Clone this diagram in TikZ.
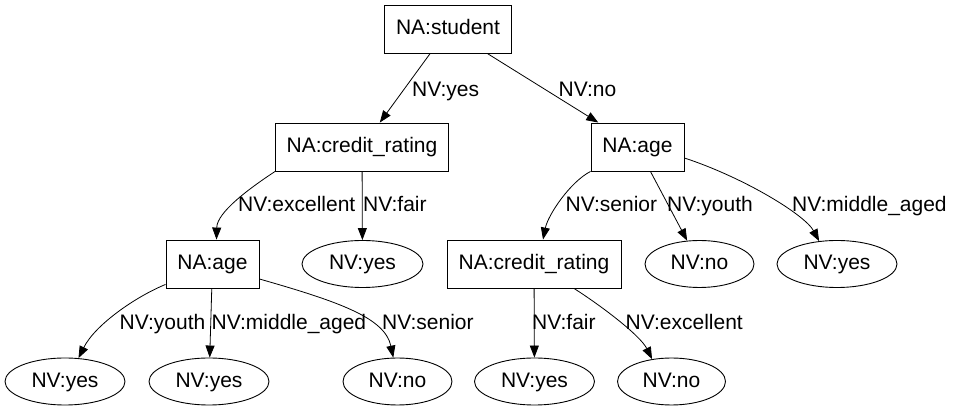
\documentclass[tikz,border=0pt]{standalone}
\usepackage{fontspec}
\setmainfont{Liberation Sans}
\usetikzlibrary{arrows.meta}
\usetikzlibrary{shapes.geometric}

\begin{document}
\begin{tikzpicture}[x=1pt,y=-1pt,font=\fontsize{21}{25}\selectfont,
  attr/.style={draw,rectangle,line width=0.9pt,inner sep=0pt,minimum height=48pt,text height=15pt,text depth=3pt},
  leaf/.style={draw,ellipse,line width=0.9pt,inner sep=0pt,minimum height=47pt,text height=15pt,text depth=3pt},
  branch/.style={-{Triangle[length=12pt,width=9pt]},line width=0.8pt},
  lbl/.style={anchor=base west,inner sep=0pt}]
\useasboundingbox (0,0) rectangle (954,411);

% attribute nodes
\node[attr,minimum width=127pt] (student) at (448,29) {NA:student};
\node[attr,minimum width=173pt] (creditL) at (362,147) {NA:credit\_rating};
\node[attr,minimum width=93pt] (ageR) at (637.5,147) {NA:age};
\node[attr,minimum width=93pt] (ageL) at (212.5,264) {NA:age};
\node[attr,minimum width=174pt] (creditR) at (534,264) {NA:credit\_rating};

% leaves
\node[leaf,minimum width=121pt] (fairL) at (362.5,264) {NV:yes};
\node[leaf,minimum width=109pt] (youthR) at (699.5,264) {NV:no};
\node[leaf,minimum width=120pt] (middleR) at (837,264) {NV:yes};
\node[leaf,minimum width=120pt] (youthL) at (65,381.5) {NV:yes};
\node[leaf,minimum width=120pt] (middleL) at (209,381.5) {NV:yes};
\node[leaf,minimum width=109pt] (seniorL) at (397.5,381.5) {NV:no};
\node[leaf,minimum width=120pt] (fairR) at (534.5,381.5) {NV:yes};
\node[leaf,minimum width=108pt] (excR) at (671.5,381.5) {NV:no};

% branches
\draw[branch] (student) -- (creditL);
\draw[branch] (student) -- (ageR);
\draw[branch] (creditL.south west) .. controls (250,188) and (217,212) .. ([xshift=4pt]ageL.north);
\draw[branch] (creditL) -- (fairL);
\draw[branch] (ageR.south west) .. controls (570,182) and (548,215) .. ([xshift=9pt]creditR.north);
\draw[branch] (ageR) -- (youthR);
\draw[branch] ([yshift=-11pt]ageR.east) .. controls (745,178) and (805,215) .. (middleR.128);
\draw[branch] ([yshift=4pt]ageL.south west) .. controls (135,297) and (95,325) .. (youthL.60);
\draw[branch] (ageL) -- (middleL);
\draw[branch] ([yshift=-15pt]ageL.east) .. controls (340,302) and (385,318) .. (seniorL.100);
\draw[branch] (creditR) -- (fairR);
\draw[branch] ([xshift=40pt]creditR.south) .. controls (600,305) and (640,335) .. (excR.131);

% branch labels
\node[lbl] (lyes) at (412,97) {NV:yes};
\node[lbl] (lno) at (558.5,97) {NV:no};
\node[lbl] (lexcL) at (238,212) {NV:excellent};
\node[lbl] (lfairL) at (363,212) {NV:fair};
\node[lbl] (lseniorR) at (565.5,212) {NV:senior};
\node[lbl] (lyouthR) at (667,212) {NV:youth};
\node[lbl] (lmiddleR) at (792,212) {NV:middle\_aged};
\node[lbl] (lyouthL) at (119.5,330) {NV:youth};
\node[lbl] (lmiddleL) at (211.5,330) {NV:middle\_aged};
\node[lbl] (lseniorL) at (382,330) {NV:senior};
\node[lbl] (lfairR) at (532,330) {NV:fair};
\node[lbl] (lexcR) at (625.5,330) {NV:excellent};

\end{tikzpicture}
\end{document}
